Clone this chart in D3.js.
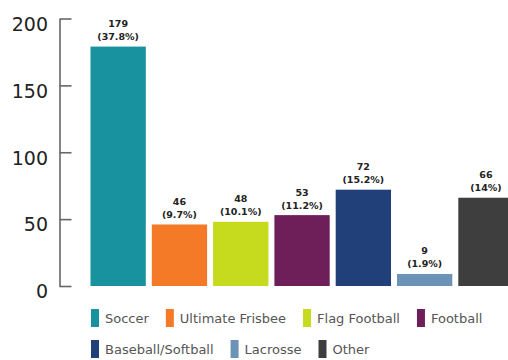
<!DOCTYPE html>
<html>
<head>
<meta charset="utf-8">
<script src="https://cdn.jsdelivr.net/npm/d3@7"></script>
<style>
  html, body { margin: 0; padding: 0; background: #fff; }
  svg { display: block; }
</style>
</head>
<body>
<svg id="chart" width="508" height="360"></svg>
<script>
// Sport categories, counts and share labels
const categories = ["Soccer", "Ultimate Frisbee", "Flag Football", "Football", "Baseball/Softball", "Lacrosse", "Other"];
const counts = [179, 46, 48, 53, 72, 9, 66];
const shares = ["37.8%", "9.7%", "10.1%", "11.2%", "15.2%", "1.9%", "14%"];
const colors = ["#17929e", "#f47a28", "#c6da1e", "#6e1f5a", "#213f78", "#6c93b5", "#3e3e3e"];
const yTicks = [0, 50, 100, 150, 200];

const svg = d3.select("#chart");

const y = d3.scaleLinear().domain([0, 200]).range([286, 18.5]);
const x = d3.scaleBand()
  .domain(categories)
  .range([90.5, 513.6])
  .paddingInner(0.098)
  .paddingOuter(0);

// Y axis with inward-pointing ticks
const yAxis = d3.axisLeft(y)
  .tickValues(yTicks)
  .tickSizeInner(-12)
  .tickSizeOuter(0)
  .tickPadding(11.5)
  .tickFormat(d3.format("d"));

const gy = svg.append("g")
  .attr("transform", "translate(59.5,0)")
  .call(yAxis);
gy.select(".domain").attr("stroke", "#666").attr("stroke-width", 1.6);
gy.selectAll(".tick line").attr("stroke", "#666").attr("stroke-width", 1.6);
gy.selectAll(".tick text")
  .attr("font-family", "DejaVu Sans, sans-serif")
  .attr("font-size", 19)
  .attr("fill", "#222")
  .attr("dy", "0.62em");

// Bars
const rows = categories.map((c, i) => ({ cat: c, value: counts[i], share: shares[i], color: colors[i] }));

svg.append("g").selectAll("rect")
  .data(rows)
  .join("rect")
  .attr("x", d => x(d.cat))
  .attr("y", d => y(d.value))
  .attr("width", x.bandwidth())
  .attr("height", d => y(0) - y(d.value))
  .attr("fill", d => d.color);

// Value and percentage labels above each bar
const labels = svg.append("g")
  .attr("font-family", "DejaVu Sans, sans-serif")
  .attr("font-weight", "bold")
  .attr("font-size", 9.5)
  .attr("fill", "#222")
  .attr("text-anchor", "middle");

labels.selectAll("text.val")
  .data(rows)
  .join("text")
  .attr("class", "val")
  .attr("x", d => x(d.cat) + x.bandwidth() / 2)
  .attr("y", d => y(d.value) - 19.5)
  .text(d => d.value);

labels.selectAll("text.pct")
  .data(rows)
  .join("text")
  .attr("class", "pct")
  .attr("x", d => x(d.cat) + x.bandwidth() / 2)
  .attr("y", d => y(d.value) - 6.5)
  .text(d => "(" + d.share + ")");

// Legend, laid out in wrapping rows
const legend = svg.append("g")
  .attr("font-family", "DejaVu Sans, sans-serif")
  .attr("font-size", 13)
  .attr("fill", "#555");

const legendLeft = 91, legendMaxRight = 490, rowGap = 31, itemGap = 17, swW = 8, swH = 18, textOff = 14;
let cx = legendLeft, row = 0;
rows.forEach(d => {
  const g = legend.append("g");
  const t = g.append("text").attr("y", 14).text(d.cat);
  const w = t.node().getComputedTextLength();
  if (cx + textOff + w > legendMaxRight) { row += 1; cx = legendLeft; }
  g.attr("transform", `translate(${cx},${309 + row * rowGap})`);
  g.insert("rect", "text")
    .attr("width", swW)
    .attr("height", swH)
    .attr("fill", d.color);
  t.attr("x", textOff);
  cx += textOff + w + itemGap;
});
</script>
</body>
</html>
